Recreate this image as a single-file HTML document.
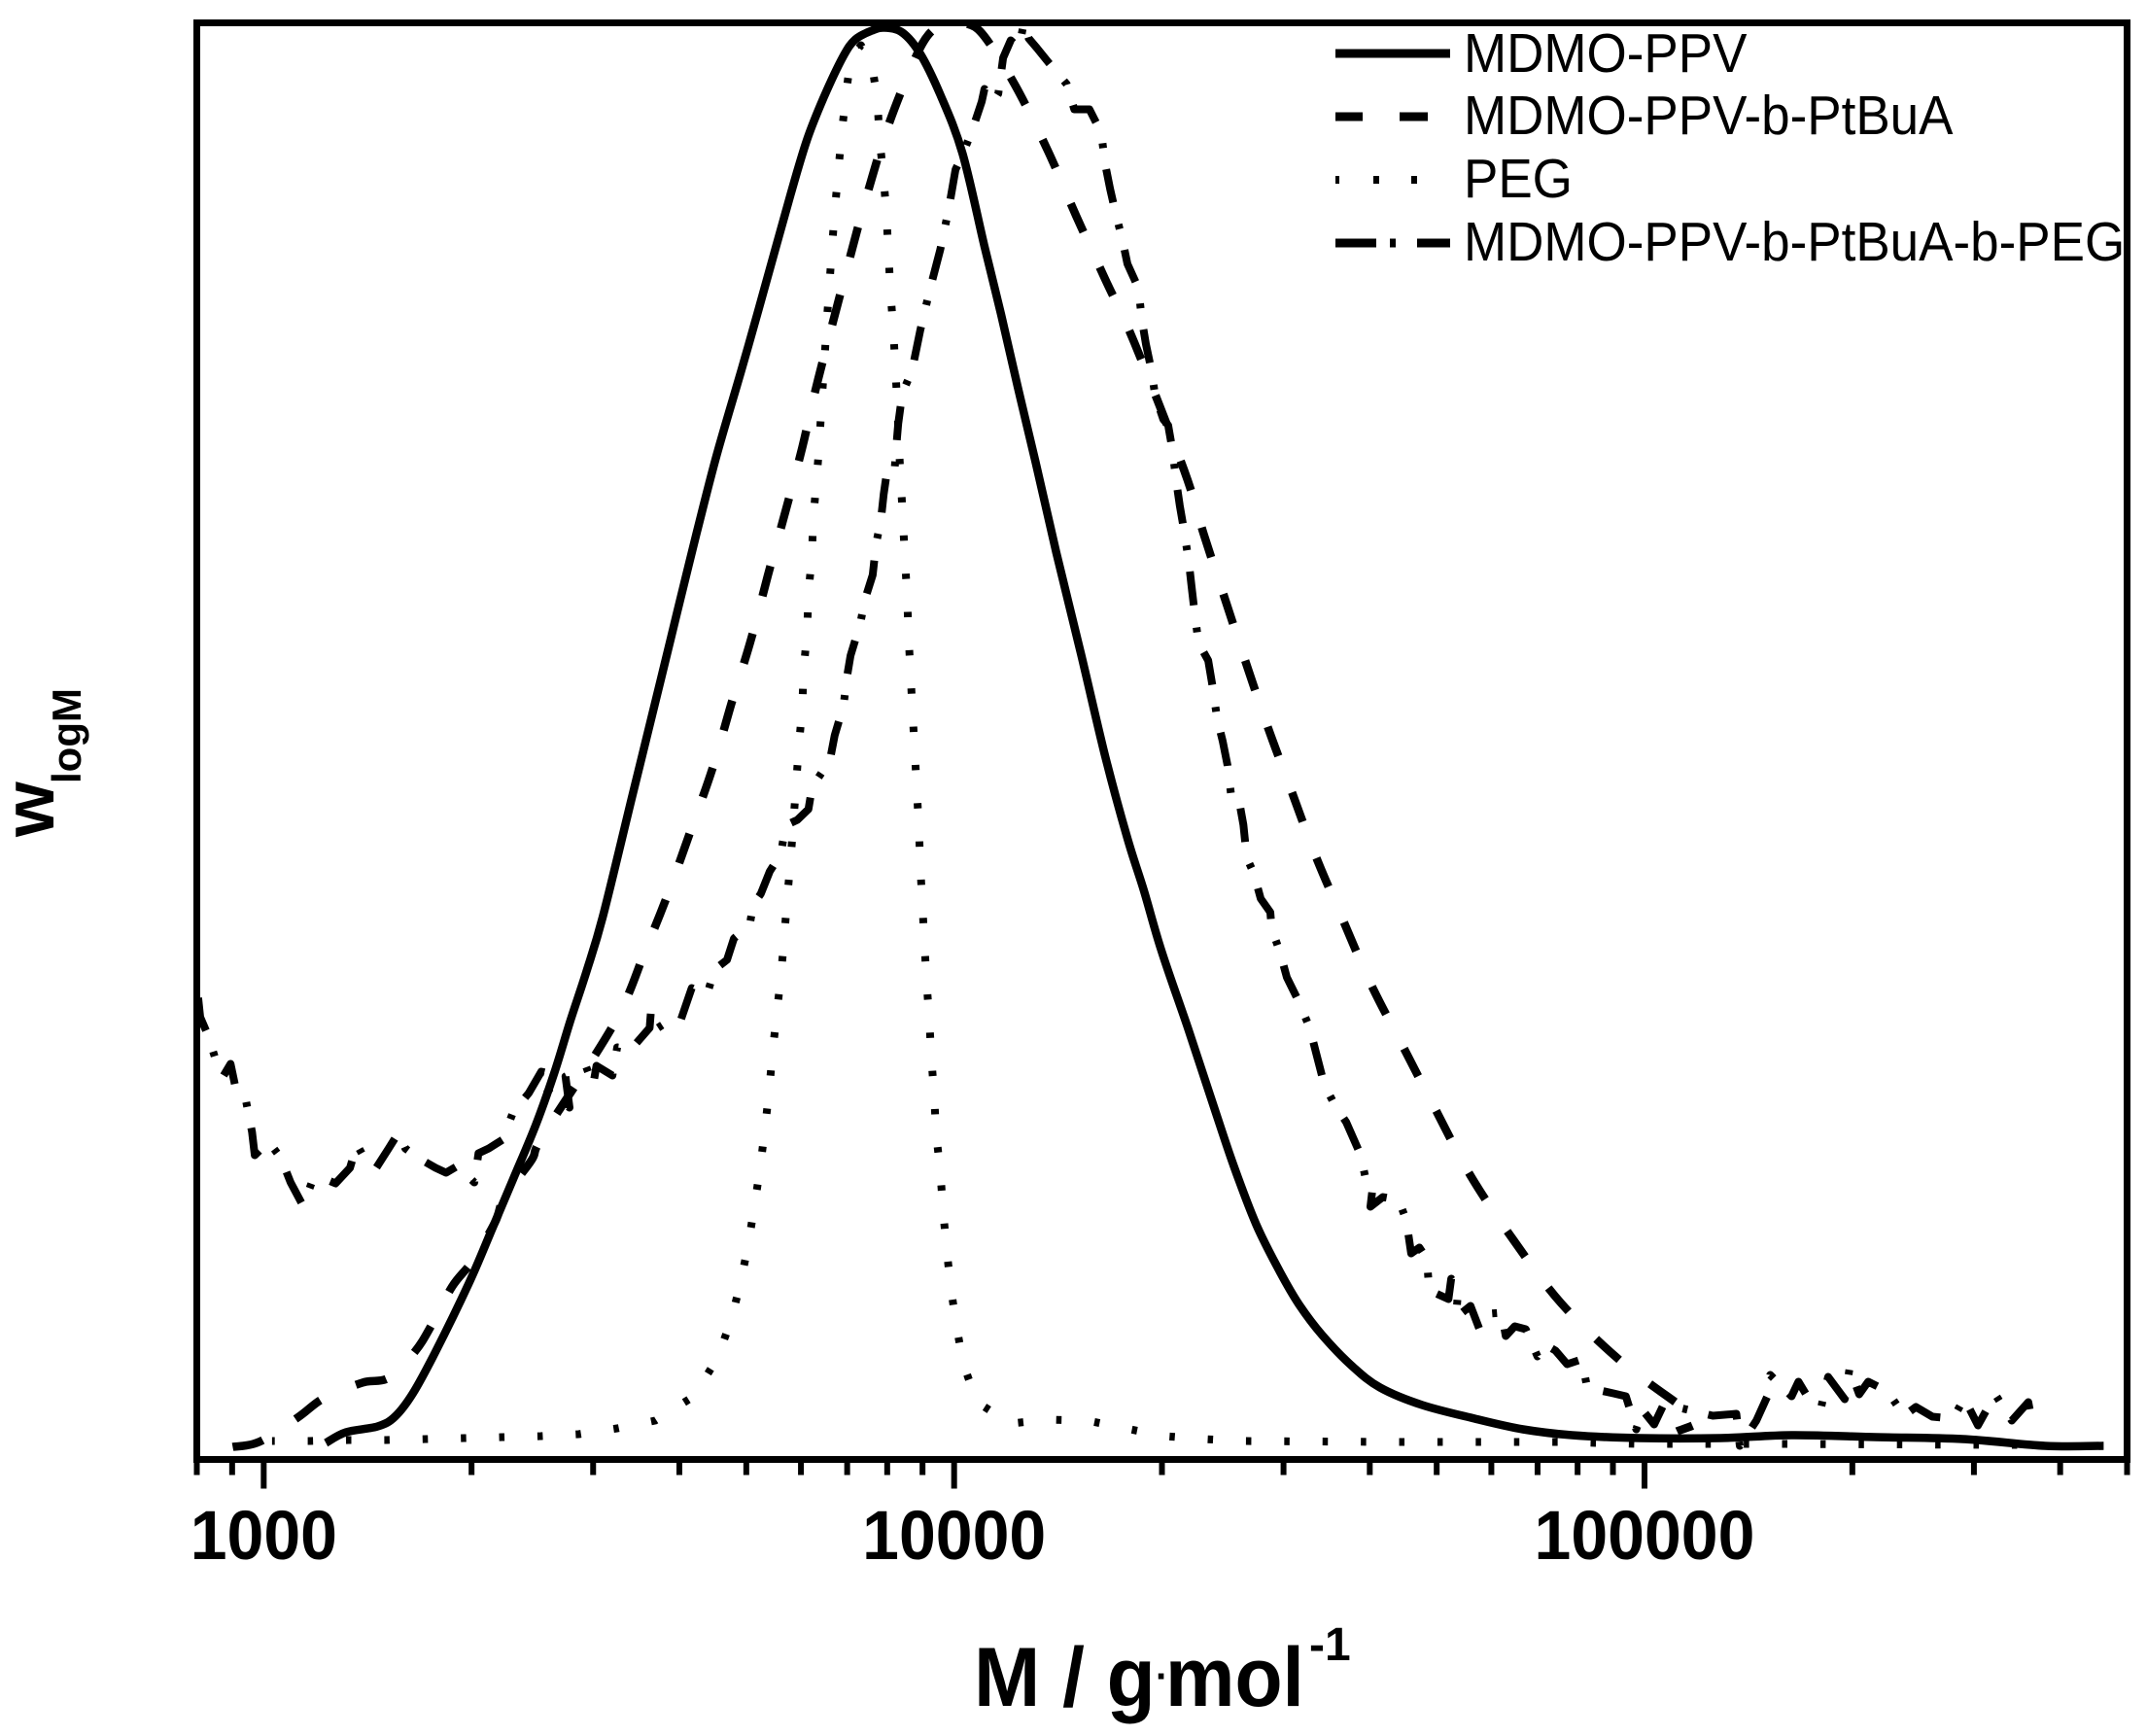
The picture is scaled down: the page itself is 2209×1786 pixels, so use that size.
<!DOCTYPE html>
<html lang="en">
<head>
<meta charset="utf-8">
<title>Molecular weight distribution</title>
<style>
html,body{margin:0;padding:0;background:#fff;}
svg{display:block;}
text{font-family:"Liberation Sans",sans-serif;fill:#000;}
</style>
</head>
<body>
<svg id="chart" xmlns="http://www.w3.org/2000/svg" width="2209" height="1786" viewBox="0 0 2209 1786">
  <defs><clipPath id="plot-clip"><rect x="202.5" y="23.5" width="1986" height="1478"/></clipPath></defs>
  <rect x="0" y="0" width="2209" height="1786" fill="#fff"/>
  <g id="series-layer" clip-path="url(#plot-clip)" fill="none" stroke="#000" stroke-linejoin="round"></g>
  <rect x="202.5" y="23.5" width="1986" height="1478" fill="none" stroke="#000" stroke-width="7"/>
  <g id="tick-layer" stroke="#000" stroke-width="6"></g>
  <g id="label-layer" font-size="68" font-weight="700" text-anchor="middle"></g>

  <g font-weight="700">
    <text transform="translate(1002,1755) scale(1,1.05)" font-size="82">M / g</text>
    <text x="1189" y="1738" font-size="40">·</text>
    <text transform="translate(1199,1755) scale(0.98,1.05)" font-size="82">mol</text>
    <text x="1347" y="1708" font-size="48">-1</text>
  </g>
  <g font-weight="700">
    <text transform="translate(55,861) rotate(-90)" font-size="73">w</text>
    <text transform="translate(83,806) rotate(-90)" font-size="42">logM</text>
  </g>

  <g font-size="53">
    <g>
      <line x1="1374" y1="55" x2="1492" y2="55" stroke="#000" stroke-width="9"/>
      <text transform="translate(1506,74) scale(1,1.07)">MDMO-PPV</text>
    </g>
    <g>
      <line x1="1374" y1="120" x2="1402" y2="120" stroke="#000" stroke-width="9"/>
      <line x1="1440" y1="120" x2="1469" y2="120" stroke="#000" stroke-width="9"/>
      <text transform="translate(1506,138) scale(1,1.07)">MDMO-PPV-b-PtBuA</text>
    </g>
    <g>
      <line x1="1374" y1="185" x2="1378" y2="185" stroke="#000" stroke-width="8"/>
      <line x1="1413" y1="185" x2="1419" y2="185" stroke="#000" stroke-width="8"/>
      <line x1="1452" y1="185" x2="1458" y2="185" stroke="#000" stroke-width="8"/>
      <text transform="translate(1506,203) scale(1,1.07)">PEG</text>
    </g>
    <g>
      <line x1="1374" y1="250" x2="1416" y2="250" stroke="#000" stroke-width="9"/>
      <line x1="1430" y1="250" x2="1436" y2="250" stroke="#000" stroke-width="9"/>
      <line x1="1458" y1="250" x2="1492" y2="250" stroke="#000" stroke-width="9"/>
      <text transform="translate(1506,268) scale(1,1.07)">MDMO-PPV-b-PtBuA-b-PEG</text>
    </g>
  </g>
</svg>

<script>
// Tick values (g/mol)
var majorTicks = [1000, 10000, 100000];
var majorTickLabels = ["1000", "10000", "100000"];
var minorTicks = [800, 900, 2000, 3000, 4000, 5000, 6000, 7000, 8000, 9000, 20000, 30000, 40000, 50000, 60000, 70000, 80000, 90000, 200000, 300000, 400000, 500000];

// MDMO-PPV: log10(M) and w(logM) in arbitrary units
var ppvLogM = [3.090,3.119,3.165,3.190,3.216,3.249,3.297,3.329,3.361,3.394,3.421,3.444,3.467,3.491,3.533,3.575,3.599,3.627,3.656,3.692,3.716,3.763,3.787,3.811,3.839,3.857,3.881,3.899,3.925,3.951,3.980,4.012,4.044,4.068,4.092,4.118,4.148,4.184,4.219,4.251,4.275,4.300,4.339,4.378,4.406,4.438,4.472,4.500,4.533,4.575,4.617,4.678,4.754,4.824,4.895,4.993,5.110,5.213,5.335,5.461,5.580,5.665];
var ppvW = [17,28,34,44,68,111,181,234,288,344,398,451,501,558,680,802,872,953,1033,1121,1181,1301,1358,1401,1443,1461,1470,1473,1468,1446,1404,1344,1248,1178,1104,1026,933,828,723,639,585,524,443,359,300,241,193,159,128,97,74,56,42,31,25,22,22,25,23,21,14,14];

// MDMO-PPV-b-PtBuA
var ptbuaLogM = [2.955,2.993,3.049,3.087,3.143,3.181,3.219,3.243,3.273,3.302,3.335,3.349,3.388,3.405,3.508,3.554,3.585,3.618,3.650,3.678,3.706,3.730,3.756,3.780,3.803,3.850,3.875,3.903,3.939,3.963,3.991,4.019,4.044,4.089,4.136,4.177,4.219,4.261,4.333,4.362,4.392,4.423,4.454,4.488,4.523,4.562,4.603,4.650,4.698,4.748,4.809,4.879,4.966,5.058,5.078,5.047];
var ptbuaW = [13,18,43,63,79,84,111,138,178,204,244,271,308,334,449,526,581,646,711,779,844,909,976,1041,1111,1239,1304,1369,1434,1466,1478,1477,1464,1413,1346,1279,1214,1149,1018,951,886,819,754,689,622,557,490,425,359,292,227,161,101,52,39,29];

// PEG
var pegLogM = [3.012,3.067,3.123,3.178,3.235,3.290,3.346,3.401,3.456,3.512,3.567,3.623,3.657,3.677,3.691,3.702,3.711,3.719,3.726,3.732,3.737,3.743,3.749,3.754,3.758,3.763,3.767,3.771,3.775,3.780,3.782,3.787,3.789,3.794,3.796,3.801,3.805,3.808,3.812,3.815,3.819,3.823,3.827,3.832,3.837,3.843,3.850,3.865,3.881,3.889,3.892,3.898,3.902,3.905,3.908,3.912,3.915,3.918,3.920,3.923,3.926,3.929,3.932,3.934,3.937,3.940,3.943,3.946,3.949,3.951,3.954,3.957,3.960,3.964,3.967,3.971,3.974,3.980,3.984,3.989,3.995,4.003,4.013,4.033,4.082,4.137,4.193,4.248,4.305,4.361,4.416,4.637,4.876,4.990,5.192,5.525,5.561];
var pegW = [19,19,20,20,21,22,23,24,26,32,40,65,104,143,183,222,262,300,340,379,419,458,497,537,576,615,654,693,733,773,812,851,891,930,969,1009,1048,1087,1127,1166,1205,1245,1284,1323,1363,1402,1441,1455,1436,1397,1358,1318,1279,1239,1200,1161,1121,1082,1043,1004,964,925,886,847,807,767,728,689,650,610,571,532,492,453,414,375,335,296,256,217,178,139,99,59,37,41,40,32,24,21,19,18,18,16,16,15,15];

// MDMO-PPV-b-PtBuA-b-PEG
var triblockLogM = [2.905,2.908,2.919,2.931,2.942,2.952,2.960,2.974,2.983,2.987,3.007,3.025,3.039,3.057,3.069,3.084,3.104,3.125,3.135,3.146,3.163,3.181,3.195,3.205,3.222,3.249,3.264,3.281,3.305,3.311,3.326,3.346,3.361,3.384,3.402,3.414,3.411,3.443,3.437,3.467,3.477,3.482,3.505,3.512,3.532,3.559,3.561,3.571,3.588,3.604,3.620,3.642,3.653,3.671,3.681,3.704,3.709,3.720,3.733,3.749,3.754,3.758,3.773,3.789,3.794,3.801,3.820,3.827,3.840,3.844,3.850,3.864,3.871,3.882,3.887,3.894,3.898,3.902,3.913,3.916,3.919,3.925,3.939,3.951,3.965,3.980,3.992,4.002,4.012,4.027,4.040,4.044,4.057,4.064,4.071,4.082,4.094,4.101,4.108,4.120,4.137,4.163,4.174,4.196,4.213,4.219,4.226,4.234,4.244,4.251,4.267,4.272,4.278,4.286,4.291,4.303,4.310,4.316,4.322,4.327,4.333,4.340,4.344,4.348,4.354,4.368,4.374,4.381,4.389,4.396,4.402,4.413,4.419,4.424,4.434,4.444,4.458,4.460,4.472,4.482,4.500,4.515,4.524,4.536,4.551,4.568,4.589,4.596,4.607,4.603,4.621,4.644,4.655,4.662,4.674,4.685,4.688,4.716,4.720,4.730,4.727,4.748,4.761,4.775,4.793,4.799,4.812,4.828,4.845,4.857,4.871,4.888,4.909,4.917,4.955,4.973,4.988,4.997,5.014,5.028,5.099,5.133,5.138,5.162,5.178,5.182,5.213,5.223,5.240,5.256,5.266,5.290,5.297,5.311,5.324,5.352,5.376,5.393,5.417,5.447,5.463,5.483,5.508,5.532,5.556,5.561];
var triblockW = [475,455,437,410,395,407,380,370,337,313,327,310,285,261,284,290,284,300,324,310,300,320,336,320,311,300,295,302,285,315,320,329,357,377,399,397,379,362,394,404,385,405,395,424,422,444,462,444,452,452,485,478,504,514,536,550,571,582,605,623,644,653,658,669,690,699,719,745,776,802,827,860,885,910,942,967,993,1013,1011,1040,1065,1097,1120,1162,1204,1245,1286,1327,1342,1369,1397,1410,1397,1405,1442,1460,1452,1478,1462,1452,1437,1415,1389,1389,1365,1332,1307,1282,1254,1230,1205,1172,1147,1120,1095,1070,1064,1040,1005,981,956,923,898,873,840,822,797,762,739,714,679,677,653,619,603,577,563,546,522,496,470,444,419,386,365,347,313,289,284,260,270,267,246,212,218,206,174,165,186,174,146,158,134,150,151,127,137,134,106,118,112,98,103,74,68,65,31,51,36,57,45,47,14,40,65,87,65,80,60,54,85,62,94,67,80,70,45,54,44,42,63,35,67,40,59,40];

// Axis definitions
var plotLeft = 202.5, plotRight = 2188.5, plotTop = 23.5, plotBottom = 1501.5;
var xMinLog = Math.log10(800), xMaxLog = Math.log10(500000);
var yMax = 1478;

function xScale(logM) {
  return plotLeft + (logM - xMinLog) / (xMaxLog - xMinLog) * (plotRight - plotLeft);
}
function yScale(w) {
  return plotBottom - w / yMax * (plotBottom - plotTop);
}
function pathFrom(xs, ys, smooth) {
  var px = xs.map(xScale), py = ys.map(yScale), d = 'M' + px[0].toFixed(1) + ' ' + py[0].toFixed(1);
  for (var i = 1; i < px.length; i++) {
    if (smooth) {
      var a = Math.max(i - 2, 0), b = i - 1, c = i, e = Math.min(i + 1, px.length - 1);
      d += 'C' + (px[b] + (px[c] - px[a]) / 6).toFixed(1) + ' ' + (py[b] + (py[c] - py[a]) / 6).toFixed(1) + ' ' +
           (px[c] - (px[e] - px[b]) / 6).toFixed(1) + ' ' + (py[c] - (py[e] - py[b]) / 6).toFixed(1) + ' ' +
           px[c].toFixed(1) + ' ' + py[c].toFixed(1);
    } else {
      d += 'L' + px[i].toFixed(1) + ' ' + py[i].toFixed(1);
    }
  }
  return d;
}

var svgNS = 'http://www.w3.org/2000/svg';
var seriesLayer = document.getElementById('series-layer');
var tickLayer = document.getElementById('tick-layer');
var labelLayer = document.getElementById('label-layer');

function drawSeries(name, xs, ys, width, dash, offset, smooth) {
  var p = document.createElementNS(svgNS, 'path');
  
  
  p.setAttribute('d', pathFrom(xs, ys, smooth));
  p.setAttribute('stroke-width', width);
  if (dash) p.setAttribute('stroke-dasharray', dash);
  if (offset) p.setAttribute('stroke-dashoffset', offset);
  seriesLayer.appendChild(p);
}

drawSeries('series-mdmo-ppv', ppvLogM, ppvW, 8.5, null, 0, true);
drawSeries('series-mdmo-ppv-b-ptbua', ptbuaLogM, ptbuaW, 8.5, '32 40', 0, true);
drawSeries('series-peg', pegLogM, pegW, 8, '5.5 33.9', 2.7, false);
drawSeries('series-mdmo-ppv-b-ptbua-b-peg', triblockLogM, triblockW, 8, '35 23 5 22', 0, false);

function drawTick(value, length, name) {
  var t = document.createElementNS(svgNS, 'line');
  var x = xScale(Math.log10(value));
  
  
  t.setAttribute('x1', x);
  t.setAttribute('x2', x);
  t.setAttribute('y1', plotBottom + 3);
  t.setAttribute('y2', plotBottom + 3 + length);
  tickLayer.appendChild(t);
}
minorTicks.forEach(function (v) {
  drawTick(v, 13, 'x-minor-tick');
});
majorTicks.forEach(function (v, i) {
  drawTick(v, 27, 'x-major-tick');
  var label = document.createElementNS(svgNS, 'text');
  
  
  label.setAttribute('transform', 'translate(' + xScale(Math.log10(v)) + ',1604) scale(1,1.05)');
  label.textContent = majorTickLabels[i];
  labelLayer.appendChild(label);
});
</script>
</body>
</html>
